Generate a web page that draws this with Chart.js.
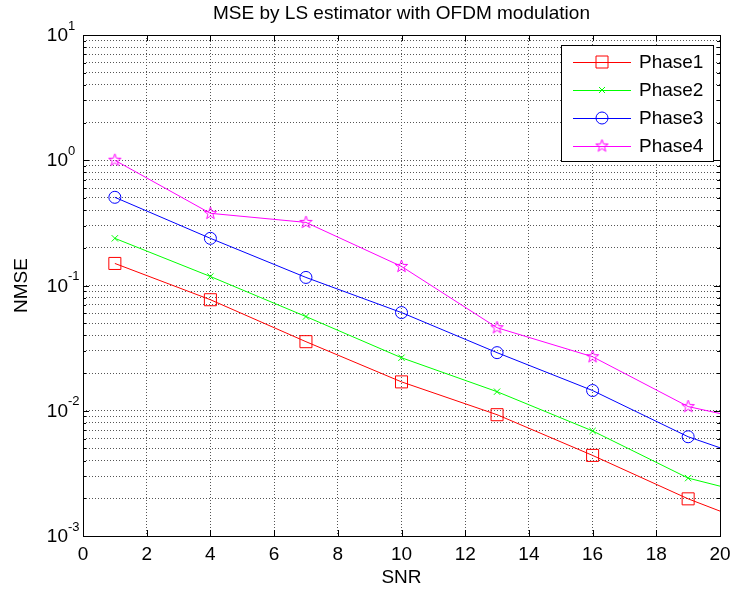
<!DOCTYPE html>
<html>
<head>
<meta charset="utf-8">
<script src="https://cdn.jsdelivr.net/npm/chart.js@4.4.0/dist/chart.umd.min.js"></script>
<style>
html, body { margin: 0; padding: 0; background: #fff; }
</style>
</head>
<body>
<canvas id="myChart" width="732" height="592"></canvas>
<script>
// data
const snr = [1, 4, 7, 10, 13, 16, 19, 20];
const phase1 = [0.15, 0.077, 0.0356, 0.017, 0.0093, 0.0044, 0.00198, 0.00158];
const phase2 = [0.238, 0.118, 0.0565, 0.0265, 0.0142, 0.0069, 0.0029, 0.0025];
const phase3 = [0.506, 0.238, 0.116, 0.0608, 0.0291, 0.0145, 0.0062, 0.00506];
const phase4 = [1.0, 0.377, 0.319, 0.142, 0.046, 0.027, 0.0108, 0.0095];
const seriesNames = ['Phase1', 'Phase2', 'Phase3', 'Phase4'];
const titleText = 'MSE by LS estimator with OFDM modulation';
const xLabel = 'SNR';
const yLabel = 'NMSE';
const yExponents = [-3, -2, -1, 0, 1];

const FONT = '"Liberation Sans", Arial, sans-serif';

function pentagram(color, size) {
    const c = document.createElement('canvas');
    c.width = size; c.height = size;
    const g = c.getContext('2d');
    const cx = size / 2, cy = size / 2, R = size / 2 - 1, r = R * 0.4;
    g.beginPath();
    for (let i = 0; i < 10; i++) {
        const a = -Math.PI / 2 + i * Math.PI / 5;
        const rad = i % 2 ? r : R;
        const px = cx + rad * Math.cos(a), py = cy + rad * Math.sin(a);
        if (i === 0) g.moveTo(px, py); else g.lineTo(px, py);
    }
    g.closePath();
    g.strokeStyle = color;
    g.lineWidth = 1;
    g.stroke();
    return c;
}
const starImg = pentagram('#ff00ff', 15);

// marker only on measured points, last point just carries the line to the edge
function radii(r) { return snr.map((v, i) => i === snr.length - 1 ? 0 : r); }
function pts(vals) { return snr.map((x, i) => ({x: x, y: vals[i]})); }

const datasets = [
    {label: seriesNames[0], data: pts(phase1), borderColor: '#ff0000', pointStyle: 'rect', pointRadius: radii(8.5), mk: 'rect'},
    {label: seriesNames[1], data: pts(phase2), borderColor: '#00ff00', pointStyle: 'crossRot', pointRadius: radii(4.5), mk: 'x'},
    {label: seriesNames[2], data: pts(phase3), borderColor: '#0000ff', pointStyle: 'circle', pointRadius: radii(6), mk: 'circle'},
    {label: seriesNames[3], data: pts(phase4), borderColor: '#ff00ff', pointStyle: starImg, pointRadius: radii(7), mk: 'star'}
].map(d => Object.assign(d, {
    borderWidth: 1,
    pointBorderColor: d.borderColor,
    pointBackgroundColor: 'rgba(0,0,0,0)',
    pointBorderWidth: 1,
    pointHoverRadius: 0,
    fill: false,
    tension: 0
}));

function drawMarker(ctx, kind, color, x, y) {
    ctx.save();
    ctx.strokeStyle = color;
    ctx.lineWidth = 1;
    ctx.beginPath();
    if (kind === 'rect') {
        ctx.rect(x - 6, y - 6, 12, 12);
    } else if (kind === 'x') {
        ctx.moveTo(x - 3, y - 3); ctx.lineTo(x + 3, y + 3);
        ctx.moveTo(x + 3, y - 3); ctx.lineTo(x - 3, y + 3);
    } else if (kind === 'circle') {
        ctx.arc(x, y, 6, 0, Math.PI * 2);
    }
    ctx.stroke();
    if (kind === 'star') ctx.drawImage(starImg, x - starImg.width / 2, y - starImg.height / 2);
    ctx.restore();
}

const matlabLook = {
    id: 'matlabLook',
    afterDatasetsDraw(chart) {
        const ctx = chart.ctx;
        const a = chart.chartArea;
        const xs = chart.scales.x, ys = chart.scales.y;
        ctx.save();
        ctx.strokeStyle = '#000';
        ctx.lineWidth = 1;
        // box
        ctx.strokeRect(Math.round(a.left) + 0.5, Math.round(a.top) + 0.5,
            Math.round(a.right - a.left), Math.round(a.bottom - a.top));
        // inner ticks
        ctx.beginPath();
        xs.ticks.forEach(t => {
            const px = Math.round(xs.getPixelForValue(t.value)) + 0.5;
            ctx.moveTo(px, a.bottom); ctx.lineTo(px, a.bottom - 6);
            ctx.moveTo(px, a.top); ctx.lineTo(px, a.top + 6);
        });
        ys.ticks.forEach(t => {
            const py = Math.round(ys.getPixelForValue(t.value)) + 0.5;
            const len = t.major ? 6 : 3;
            ctx.moveTo(a.left, py); ctx.lineTo(a.left + len, py);
            ctx.moveTo(a.right, py); ctx.lineTo(a.right - len, py);
        });
        ctx.stroke();

        // legend box
        const lx = 561, ly = 45, lw = 152, lh = 116;
        ctx.fillStyle = '#fff';
        ctx.fillRect(lx, ly, lw, lh);
        ctx.strokeRect(lx + 0.5, ly + 0.5, lw, lh);
        ctx.font = '19px ' + FONT;
        ctx.textBaseline = 'middle';
        ctx.textAlign = 'left';
        chart.data.datasets.forEach((d, i) => {
            const yy = ly + 17 + i * 28;
            ctx.strokeStyle = d.borderColor;
            ctx.beginPath();
            ctx.moveTo(573, yy + 0.5); ctx.lineTo(631, yy + 0.5);
            ctx.stroke();
            drawMarker(ctx, d.mk, d.borderColor, 602, yy);
            ctx.fillStyle = '#000';
            ctx.fillText(d.label, 639, yy + 1);
        });
        ctx.restore();
    },
    afterDraw(chart) {
        const ctx = chart.ctx;
        const a = chart.chartArea;
        const ys = chart.scales.y;
        ctx.save();
        ctx.fillStyle = '#000';
        ctx.font = '19px ' + FONT;
        ctx.textAlign = 'center';
        ctx.textBaseline = 'middle';
        ctx.fillText(titleText, (a.left + a.right) / 2, 14);
        ctx.fillText(xLabel, (a.left + a.right) / 2, 578);
        ctx.save();
        ctx.translate(22, (a.top + a.bottom) / 2);
        ctx.rotate(-Math.PI / 2);
        ctx.fillText(yLabel, 0, 0);
        ctx.restore();
        // y tick labels with superscript exponents
        yExponents.forEach(e => {
            const py = ys.getPixelForValue(Math.pow(10, e));
            ctx.font = '19px ' + FONT;
            ctx.textAlign = 'right';
            ctx.textBaseline = 'middle';
            ctx.fillText('10', 68, py + 1);
            ctx.font = '13px ' + FONT;
            ctx.textAlign = 'left';
            ctx.fillText(String(e), 68, py - 9);
        });
        ctx.restore();
    }
};

new Chart(document.getElementById('myChart').getContext('2d'), {
    type: 'line',
    data: {datasets: datasets},
    plugins: [matlabLook],
    options: {
        responsive: false,
        animation: false,
        layout: {padding: {left: 0, top: 35, right: 12, bottom: 0}},
        plugins: {legend: {display: false}, tooltip: {enabled: false}, title: {display: false}},
        scales: {
            x: {
                type: 'linear',
                min: 0, max: 20,
                ticks: {stepSize: 2, color: '#000', font: {family: FONT, size: 19}, padding: 7, maxRotation: 0},
                grid: {color: '#555', drawTicks: false},
                border: {display: false, dash: [1, 2]},
                afterFit(s) { s.height = 56; s.paddingLeft = 0; s.paddingRight = 0; }
            },
            y: {
                type: 'logarithmic',
                min: 1e-3, max: 10,
                afterBuildTicks(s) {
                    const t = [];
                    for (let e = -3; e < 1; e++) {
                        for (let m = 1; m < 10; m++) t.push({value: m * Math.pow(10, e), major: m === 1});
                    }
                    t.push({value: 10, major: true});
                    s.ticks = t;
                },
                ticks: {callback: () => '', autoSkip: false},
                grid: {color: '#555', drawTicks: false},
                border: {display: false, dash: [1, 2]},
                afterFit(s) { s.width = 83; s.paddingTop = 0; s.paddingBottom = 0; }
            }
        }
    }
});
</script>
</body>
</html>
